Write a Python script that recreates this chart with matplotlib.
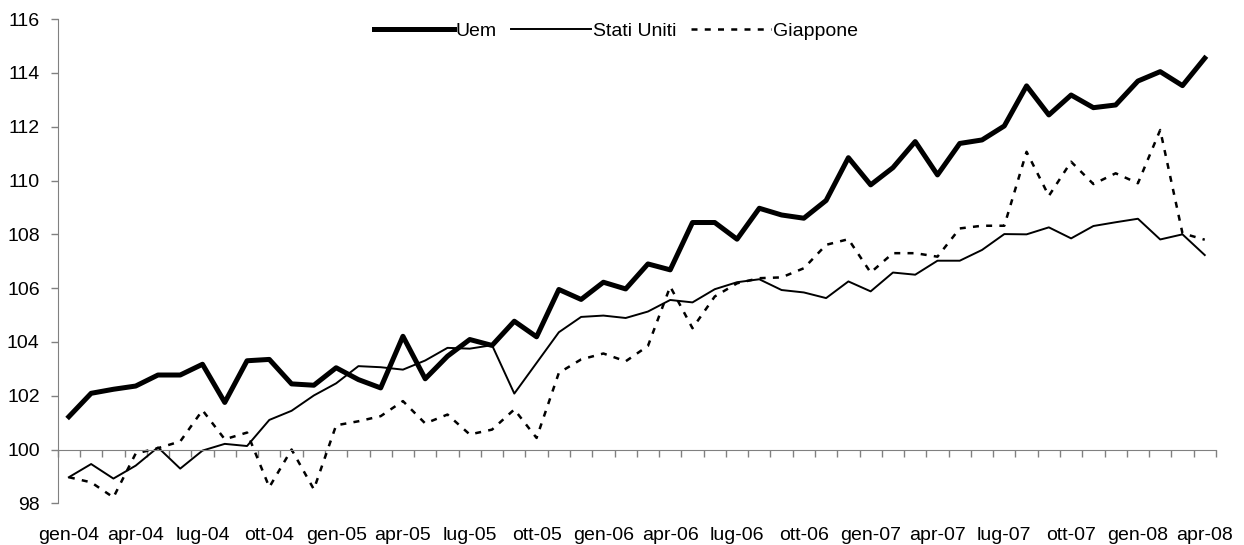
import numpy as np
import matplotlib
matplotlib.use('Agg')
import matplotlib.pyplot as plt

plt.rcParams['font.family'] = ['Liberation Sans', 'DejaVu Sans']

# monthly, gen-04 ... apr-08
mesi = ['gen', 'feb', 'mar', 'apr', 'mag', 'giu', 'lug', 'ago', 'set', 'ott', 'nov', 'dic']
categorie = [f'{m}-{a:02d}' for a in range(4, 9) for m in mesi][:52]

uem = [101.22, 102.09, 102.24, 102.36, 102.77, 102.77, 103.17, 101.75, 103.30, 103.35,
       102.44, 102.39, 103.04, 102.60, 102.29, 104.21, 102.63, 103.47, 104.09, 103.87,
       104.77, 104.19, 105.95, 105.58, 106.22, 105.97, 106.90, 106.68, 108.44, 108.44,
       107.82, 108.97, 108.72, 108.60, 109.26, 110.85, 109.84, 110.48, 111.45, 110.21,
       111.38, 111.51, 112.03, 113.52, 112.44, 113.18, 112.71, 112.81, 113.70, 114.05,
       113.53, 114.55]

stati_uniti = [98.97, 99.46, 98.92, 99.40, 100.08, 99.29, 99.96, 100.21, 100.13, 101.10,
               101.44, 102.01, 102.46, 103.10, 103.06, 102.97, 103.31, 103.78, 103.75, 103.88,
               102.08, 103.22, 104.36, 104.93, 104.98, 104.89, 105.13, 105.56, 105.47, 105.96,
               106.22, 106.33, 105.93, 105.84, 105.63, 106.25, 105.88, 106.58, 106.50, 107.02,
               107.02, 107.42, 108.01, 108.00, 108.26, 107.85, 108.31, 108.45, 108.58, 107.81,
               108.00, 107.23]

giappone = [98.97, 98.78, 98.22, 99.85, 100.05, 100.30, 101.46, 100.38, 100.63, 98.60,
            100.00, 98.52, 100.90, 101.05, 101.24, 101.80, 100.97, 101.30, 100.56, 100.74,
            101.49, 100.43, 102.85, 103.35, 103.57, 103.28, 103.85, 106.06, 104.51, 105.69,
            106.18, 106.37, 106.40, 106.74, 107.61, 107.82, 106.58, 107.30, 107.30, 107.17,
            108.22, 108.32, 108.32, 111.07, 109.43, 110.70, 109.87, 110.27, 109.90, 111.88,
            108.04, 107.80]

x = np.arange(len(categorie))

fig = plt.figure(figsize=(12.44, 5.45), dpi=100)
ax = fig.add_axes([0.0464, 0.0765, 0.931, 0.8883])

ax.plot(x, uem, color='black', lw=3.6, label='Uem')
ax.plot(x, stati_uniti, color='black', lw=1.4, label='Stati Uniti')
ax.plot(x, giappone, color='black', lw=1.8, linestyle=(0, (2.4, 2.9)), label='Giappone')

ax.set_xlim(-0.5, len(categorie) - 0.5)
ax.set_ylim(98, 116)
ax.set_yticks(np.arange(98, 117, 2))
ax.tick_params(axis='y', direction='out', length=5, width=1, color='#808080',
               labelsize=14, pad=8)

# category axis crosses at 100, labels stay at the bottom
for s in ['top', 'right']:
    ax.spines[s].set_visible(False)
ax.spines['left'].set_color('#808080')
ax.spines['bottom'].set_color('#808080')
ax.spines['bottom'].set_position(('data', 100))
ax.set_xticks(np.arange(-0.5, len(categorie), 1.0))
ax.tick_params(axis='x', direction='out', length=5, width=1, color='#808080',
               labelbottom=False)

sec = ax.secondary_xaxis(0)
sec.set_xticks(x[::3])
sec.set_xticklabels(categorie[::3])
sec.spines['bottom'].set_visible(False)
sec.tick_params(length=0, labelsize=14, pad=17)

ax.legend(loc='upper center', bbox_to_anchor=(0.482, 1.03), ncol=3, frameon=False,
          fontsize=14, handlelength=4.1, handletextpad=0.1, columnspacing=0.75)

fig.savefig('out.png', dpi=100)
